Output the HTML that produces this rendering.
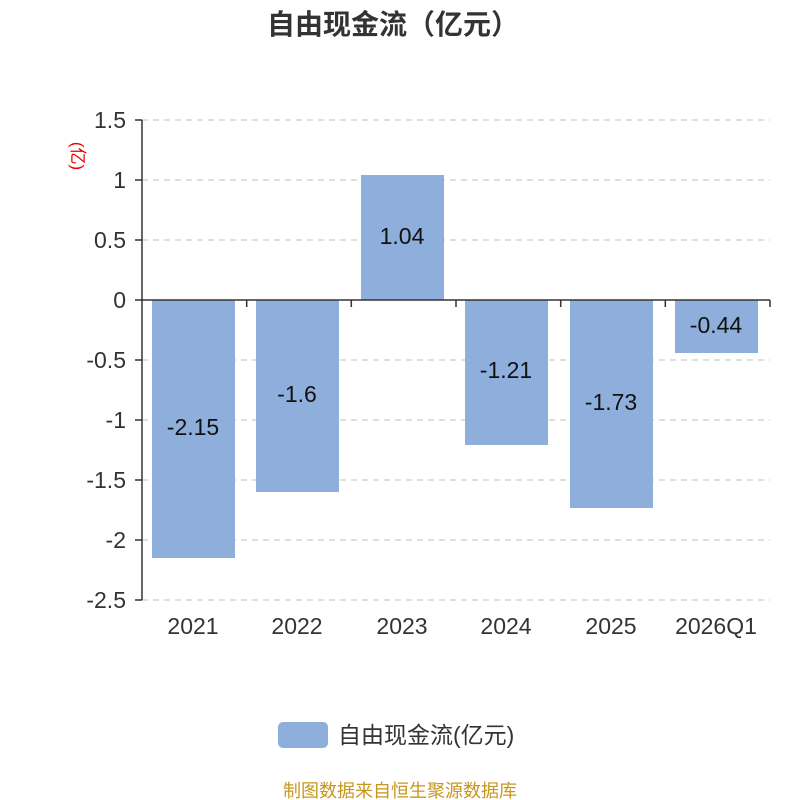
<!DOCTYPE html>
<html><head><meta charset="utf-8"><style>body{margin:0;background:#fff}svg{display:block}</style></head><body>
<svg width="800" height="800" xmlns="http://www.w3.org/2000/svg" font-family="Liberation Sans, Noto Sans CJK SC, sans-serif">
<text x="393" y="34" text-anchor="middle" font-size="28" font-weight="bold" fill="#333">自由现金流（亿元）</text>
<g stroke="#ccc" stroke-dasharray="6,5" stroke-width="1.3">
<line x1="142" y1="120" x2="770" y2="120"/><line x1="142" y1="180" x2="770" y2="180"/><line x1="142" y1="240" x2="770" y2="240"/>
<line x1="142" y1="360" x2="770" y2="360"/><line x1="142" y1="420" x2="770" y2="420"/><line x1="142" y1="480" x2="770" y2="480"/>
<line x1="142" y1="540" x2="770" y2="540"/><line x1="142" y1="600" x2="770" y2="600"/>
</g>
<g fill="#8eaedb">
<rect x="152" y="300" width="83" height="258"/>
<rect x="256" y="300" width="83" height="192"/>
<rect x="361" y="175" width="83" height="125"/>
<rect x="465" y="300" width="83" height="145"/>
<rect x="570" y="300" width="83" height="208"/>
<rect x="675" y="300" width="83" height="53"/>
</g>
<g stroke="#333" stroke-width="1.5">
<line x1="142" y1="120" x2="142" y2="600"/>
<line x1="142" y1="300" x2="770" y2="300"/>
<line x1="135" y1="120" x2="142" y2="120"/><line x1="135" y1="180" x2="142" y2="180"/><line x1="135" y1="240" x2="142" y2="240"/><line x1="135" y1="300" x2="142" y2="300"/><line x1="135" y1="360" x2="142" y2="360"/><line x1="135" y1="420" x2="142" y2="420"/><line x1="135" y1="480" x2="142" y2="480"/><line x1="135" y1="540" x2="142" y2="540"/><line x1="135" y1="600" x2="142" y2="600"/>
<line x1="246.7" y1="300" x2="246.7" y2="307"/><line x1="351.3" y1="300" x2="351.3" y2="307"/><line x1="456" y1="300" x2="456" y2="307"/><line x1="560.7" y1="300" x2="560.7" y2="307"/><line x1="665.3" y1="300" x2="665.3" y2="307"/><line x1="770" y1="300" x2="770" y2="307"/>
</g>
<g font-size="23" fill="#333" text-anchor="end">
<text x="126" y="128">1.5</text><text x="126" y="188">1</text><text x="126" y="248">0.5</text><text x="126" y="308">0</text><text x="126" y="368">-0.5</text><text x="126" y="428">-1</text><text x="126" y="488">-1.5</text><text x="126" y="548">-2</text><text x="126" y="608">-2.5</text>
</g>
<text transform="translate(72,156) rotate(90)" font-size="17" fill="#e00" text-anchor="middle">(亿)</text>
<g font-size="23" fill="#333" text-anchor="middle">
<text x="193" y="634">2021</text><text x="297" y="634">2022</text><text x="402" y="634">2023</text><text x="506" y="634">2024</text><text x="611" y="634">2025</text><text x="716" y="634">2026Q1</text>
</g>
<g font-size="23" fill="#111" text-anchor="middle">
<text x="193" y="435">-2.15</text><text x="297" y="402">-1.6</text><text x="402" y="244">1.04</text><text x="506" y="378">-1.21</text><text x="611" y="410">-1.73</text><text x="716" y="333">-0.44</text>
</g>
<rect x="278" y="722" width="50" height="26" rx="5" fill="#8eaedb"/>
<text x="338" y="743" font-size="23" fill="#333">自由现金流(亿元)</text>
<text x="400" y="797" font-size="18" fill="#c8961e" text-anchor="middle">制图数据来自恒生聚源数据库</text>
</svg>
</body></html>
